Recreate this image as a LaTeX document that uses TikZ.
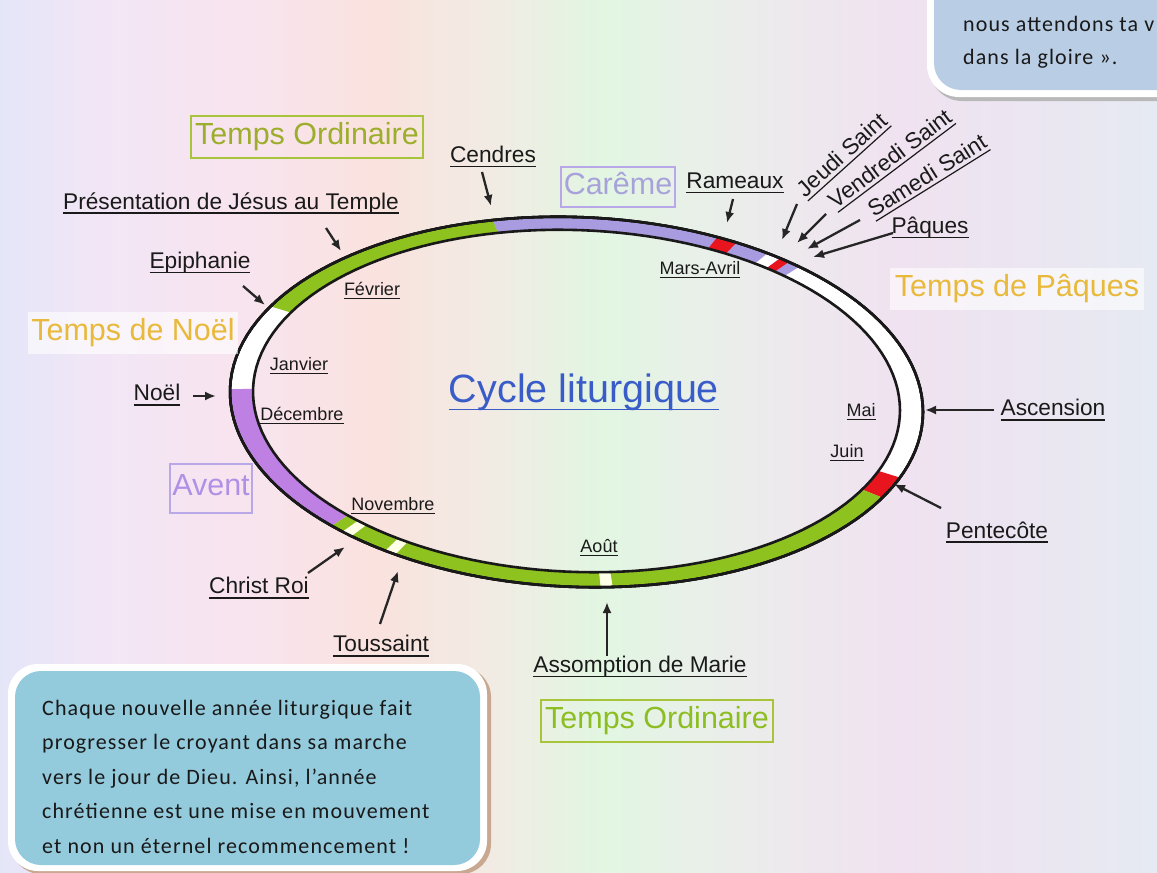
\documentclass[tikz,border=0pt]{standalone}
\usepackage{fontspec}
\setmainfont{Liberation Sans}
\newfontfamily\boxfont[LetterSpace=5]{Carlito}
\usetikzlibrary{arrows.meta}

% text with a rule under it, at a fixed depth
\newcommand\undr[1]{\leavevmode\setbox0\hbox{#1}%
  \rlap{\raisebox{-0.2em}{\rule{\wd0}{1.2pt}}}\box0}

\definecolor{bgA}{HTML}{E4E6F8}
\definecolor{bgB}{HTML}{F2E6F6}
\definecolor{bgC}{HTML}{F8E4EE}
\definecolor{bgD}{HTML}{FAE2DE}
\definecolor{bgE}{HTML}{F0ECE4}
\definecolor{bgF}{HTML}{E2F6E2}
\definecolor{bgG}{HTML}{ECECEC}
\definecolor{bgH}{HTML}{F0E2F0}
\definecolor{bgI}{HTML}{E6EAF2}
\pgfdeclarehorizontalshading{pastel}{100bp}{color(0bp)=(bgA); color(25bp)=(bgA);
  color(29.3bp)=(bgB); color(35.8bp)=(bgC); color(41.4bp)=(bgD); color(46.6bp)=(bgE);
  color(50.9bp)=(bgF); color(57.4bp)=(bgG); color(63.9bp)=(bgH); color(75bp)=(bgI); color(100bp)=(bgI)}

\definecolor{ordgreen}{HTML}{8DC21F}
\definecolor{lentlilac}{HTML}{A99BE0}
\definecolor{adventlilac}{HTML}{BE80E2}
\definecolor{feastred}{HTML}{E8141E}
\definecolor{labtext}{HTML}{1A1A1A}
\definecolor{ordtext}{HTML}{9CAE2C}
\definecolor{ordline}{HTML}{A8C43A}
\definecolor{ordtextB}{HTML}{8CBE22}
\definecolor{lenttext}{HTML}{A8A2DA}
\definecolor{lentline}{HTML}{B8A8E8}
\definecolor{adventtext}{HTML}{B090E6}
\definecolor{goldtext}{HTML}{E8B93A}
\definecolor{cycleblue}{HTML}{3A5CC8}
\definecolor{topblue}{HTML}{B9CDE5}
\definecolor{lowblue}{HTML}{93CADC}
\definecolor{boxshade}{HTML}{C8A890}

\tikzset{
  lab/.style={font=\fontsize{22.7}{26}\selectfont, text=labtext, inner sep=1pt},
  month/.style={font=\fontsize{18}{21}\selectfont, text=labtext, inner sep=1pt},
  season/.style={font=\fontsize{30.5}{35}\selectfont, text height=21pt, text depth=6pt,
    inner xsep=4.5pt, inner ysep=7.5pt, line width=2pt},
  arr/.style={-{Latex[length=11pt,width=9pt]}, line width=2.3pt, black!85},
  ring/.style={line width=2.6pt, black!90},
  boxtxt/.style={font=\boxfont\fontsize{22}{34.4}\selectfont, text=black!90},
}

% one coloured piece of the ring, between parameter angles #2 and #3
\newcommand\ringseg[3]{%
  \fill[#1] plot[domain=#2:#3, samples=30, variable=\t]
      ({576.5+346.5*cos(\t)}, {402+185*sin(\t)+10*cos(\t)})
   -- plot[domain=#3:#2, samples=30, variable=\t]
      ({576.5+323.5*cos(\t)}, {401+171*sin(\t)+9.3*cos(\t)}) -- cycle;}

\begin{document}
\begin{tikzpicture}[x=1pt,y=-1pt]
 \useasboundingbox (0,0) rectangle (1157,873);
 \clip (0,0) rectangle (1157,873);
 \shade[shading=pastel] (0,0) rectangle (1157,873);
 %
 % the ring
 \ringseg{white}{-50}{21}
 \ringseg{feastred}{21}{28}
 \ringseg{ordgreen}{28}{135}
 \ringseg{adventlilac}{135}{181}
 \ringseg{white}{181}{208}
 \ringseg{ordgreen}{208}{256}
 \ringseg{lentlilac}{256}{310}
 % feasts on the ring
 \ringseg{feastred}{294}{297.5}
 \ringseg{white}{303.5}{306}
 \ringseg{feastred}{306}{307.8}
 \foreach \f in {84,121.5,130.5} \ringseg{white!90!yellow}{\f}{\f+2}
 \draw[ring] plot[domain=0:360, samples=150, variable=\t]
      ({576.5+346.5*cos(\t)}, {402+185*sin(\t)+10*cos(\t)}) -- cycle;
 \draw[ring] plot[domain=0:360, samples=150, variable=\t]
      ({576.5+323.5*cos(\t)}, {401+171*sin(\t)+9.3*cos(\t)}) -- cycle;
 %
 \node[font=\fontsize{39.5}{44}\selectfont, text=cycleblue] (cycle) at (584,392) {\undr{Cycle liturgique}};
 %
 % seasons
 \node[season, draw=ordline, text=ordtext] (ordA) at (307,137) {Temps Ordinaire};
 \node[season, draw=lentline, text=lenttext, inner xsep=3pt, inner ysep=6.5pt] (careme) at (618,187) {Carême};
 \node[season, fill=white, fill opacity=.6, text opacity=1, text=goldtext] (paschal) at (1017,289) {Temps de Pâques};
 \node[season, fill=white, fill opacity=.6, text opacity=1, text=goldtext, inner xsep=3pt] (noeltime) at (133,333) {Temps de Noël};
 \node[season, draw=lentline, text=adventtext, inner xsep=2pt, inner ysep=11pt] (avent) at (211,488) {Avent};
 \node[season, draw=ordline, text=ordtextB] (ordB) at (657,721) {Temps Ordinaire};
 %
 % months
 \node[month] (fevrier) at (372,291) {\undr{Février}};
 \node[month] (janvier) at (299,366) {\undr{Janvier}};
 \node[month] (decembre) at (302,416) {\undr{Décembre}};
 \node[month] (novembre) at (393,506) {\undr{Novembre}};
 \node[month] (aout) at (599,548) {\undr{Août}};
 \node[month] (mars) at (700,270) {\undr{Mars-Avril}};
 \node[month] (mai) at (861,412) {\undr{Mai}};
 \node[month] (juin) at (847,453) {\undr{Juin}};
 %
 % feasts
 \node[lab] (pres) at (231,203) {\undr{Présentation de Jésus au Temple}};
 \node[lab] (cendres) at (493,157) {\undr{Cendres}};
 \node[lab] (rameaux) at (735,183) {\undr{Rameaux}};
 \node[lab, rotate=42, inner sep=0] (jeudi) at (843,156) {\undr{Jeudi Saint}};
 \node[lab, rotate=37, inner sep=0] (vendredi) at (891,160) {\undr{Vendredi Saint}};
 \node[lab, rotate=32, inner sep=0] (samedi) at (928,177) {\undr{Samedi Saint}};
 \node[lab] (paques) at (930,228) {\undr{Pâques}};
 \node[lab] (epiph) at (200,263) {\undr{Epiphanie}};
 \node[lab] (noel) at (157,395) {\undr{Noël}};
 \node[lab] (ascension) at (1053,410) {\undr{Ascension}};
 \node[lab] (pentecote) at (997,532) {\undr{Pentecôte}};
 \node[lab] (assomption) at (640,667) {\undr{Assomption de Marie}};
 \node[lab] (toussaint) at (381,646) {\undr{Toussaint}};
 \node[lab] (christroi) at (259,588) {\undr{Christ Roi}};
 %
 % arrows to the ring
 \coordinate (pres-t) at (326,228);      \coordinate (pres-h) at (341,251);
 \coordinate (cendres-t) at (482,172);   \coordinate (cendres-h) at (491,206);
 \coordinate (rameaux-t) at (733,199);   \coordinate (rameaux-h) at (727,223);
 \coordinate (jeudi-t) at (797,204);     \coordinate (jeudi-h) at (782,240);
 \coordinate (vendredi-t) at (826,214);  \coordinate (vendredi-h) at (797,243);
 \coordinate (samedi-t) at (860,220);    \coordinate (samedi-h) at (807,249);
 \coordinate (paques-t) at (893,233);    \coordinate (paques-h) at (813,257);
 \coordinate (epiph-t) at (243,286);     \coordinate (epiph-h) at (265,305);
 \coordinate (noel-t) at (193,396);      \coordinate (noel-h) at (216,396);
 \coordinate (ascension-t) at (994,410); \coordinate (ascension-h) at (925,410);
 \coordinate (pentecote-t) at (941,508); \coordinate (pentecote-h) at (894,484);
 \coordinate (assomption-t) at (607,656);\coordinate (assomption-h) at (607,602);
 \coordinate (toussaint-t) at (380,624); \coordinate (toussaint-h) at (398,571);
 \coordinate (christroi-t) at (308,573); \coordinate (christroi-h) at (345,547);
 \foreach \n in {pres,cendres,rameaux,jeudi,vendredi,samedi,paques,epiph,noel,
                 ascension,pentecote,assomption,toussaint,christroi}
   \draw[arr] (\n-t) -- (\n-h);
 %
 % box top right
 \fill[gray!55, rounded corners=32pt] (930,-40) rectangle (1200,101);
 \fill[white, rounded corners=32pt] (927,-40) rectangle (1200,97);
 \fill[topblue, rounded corners=27pt] (934,-40) rectangle (1200,90);
 \begin{scope}
  \clip (934,0) rectangle (1157,67);
  \node[boxtxt, anchor=base west, inner sep=0] (vigilA) at (963,31) {nous attendons ta v};
  \node[boxtxt, anchor=base west, inner sep=0] (vigilB) at (963,64) {dans la gloire ».};
 \end{scope}
 %
 % box bottom left
 \fill[boxshade, rounded corners=30pt] (11,667) rectangle (491,874);
 \fill[white, rounded corners=30pt] (8,664) rectangle (487,871);
 \fill[lowblue, rounded corners=26pt] (15,671) rectangle (480,865);
 \node[boxtxt, anchor=north west, align=left, inner sep=0] (credo) at (42,700)
   {Chaque nouvelle année liturgique fait\\progresser le croyant dans sa marche\\vers le jour de Dieu. Ainsi, l’année\\chrétienne est une mise en mouvement\\et non un éternel recommencement !};
\end{tikzpicture}
\end{document}
